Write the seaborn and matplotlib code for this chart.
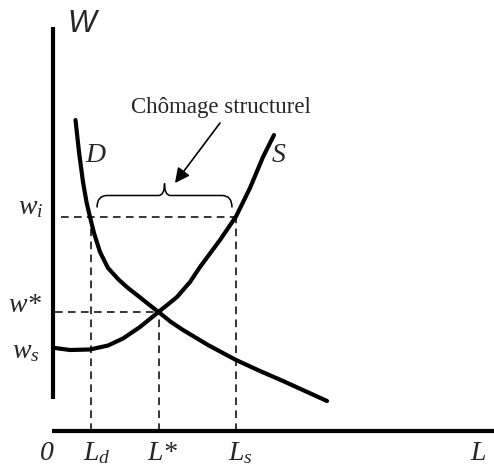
import matplotlib
matplotlib.use("Agg")
import matplotlib.pyplot as plt
from matplotlib.path import Path
from matplotlib.patches import PathPatch
import seaborn as sns

# courbe de demande D (L, W)
d_L = [2.25, 2.6, 3.0, 3.35, 3.7, 4.1, 4.7, 5.5, 6.6, 7.5, 8.4, 9.4, 10.55,
       11.8, 13.0, 15.5, 18.3, 20.7, 23.0, 27.4]
d_W = [31.1, 27.9, 24.9, 22.9, 21.4, 19.8, 17.9, 16.3, 15.1, 14.3, 13.6, 12.8,
       11.9, 10.9, 10.1, 8.6, 7.1, 6.0, 5.0, 3.0]

# courbe d'offre S (L, W)
s_L = [0.2, 1.7, 3.7, 5.5, 7.0, 8.7, 10.55, 12.4, 13.7, 14.7, 16.7, 18.3,
       19.7, 21.0, 22.1]
s_W = [8.3, 8.1, 8.15, 8.55, 9.25, 10.4, 11.9, 13.4, 14.9, 16.4, 19.1, 21.45,
       24.3, 27.4, 29.6]

# niveaux remarquables
Ld, Lstar, Ls = 3.8, 10.6, 18.3
wi, wstar, ws = 21.45, 11.95, 8.3

sns.set_style("white")
plt.rcParams["mathtext.fontset"] = "custom"
plt.rcParams["mathtext.rm"] = "Liberation Serif"
plt.rcParams["mathtext.it"] = "Liberation Serif:italic"

fig = plt.figure(figsize=(4.94, 4.68), dpi=100)
ax = fig.add_axes([0, 0, 1, 1])
ax.set_xlim(-5.3, 44.1)
ax.set_ylim(-3.7, 43.1)
ax.axis("off")

# axes du graphique
ax.plot([0, 0], [3.2, 40.4], color="black", lw=3, solid_capstyle="butt")
ax.plot([-0.1, 44.1], [0, 0], color="black", lw=3, solid_capstyle="butt")

# pointillés
dash = dict(color="black", lw=1.1, linestyles=(0, (5, 3.5)))
ax.hlines(wi, 0.8, Ls, **dash)
ax.hlines(wstar, 0.2, Lstar, **dash)
ax.vlines([Ld, Ls], 0, wi, **dash)
ax.vlines(Lstar, 0, wstar, **dash)

# courbes
sns.lineplot(x=d_L, y=d_W, sort=False, ax=ax, color="black", lw=3,
             solid_joinstyle="round")
sns.lineplot(x=s_L, y=s_W, sort=False, ax=ax, color="black", lw=3,
             solid_joinstyle="round")

# accolade au-dessus de wi entre Ld et Ls
x0, x1 = Ld + 0.6, Ls - 0.4
xm = (x0 + x1) / 2
y0, y1, y2 = wi + 0.9, wi + 2.1, wi + 3.3
r = 1.0
verts = [(x0, y0), (x0, y1), (x0 + r, y1),
         (xm - 0.6, y1), (xm, y1), (xm, y2),
         (xm, y1), (xm + 0.6, y1),
         (x1 - r, y1), (x1, y1), (x1, y0)]
codes = [Path.MOVETO, Path.CURVE3, Path.CURVE3,
         Path.LINETO, Path.CURVE3, Path.CURVE3,
         Path.CURVE3, Path.CURVE3,
         Path.LINETO, Path.CURVE3, Path.CURVE3]
ax.add_patch(PathPatch(Path(verts, codes), fill=False, lw=1.1, color="black"))

# textes
serif = "Liberation Serif"
lab = dict(family=serif, style="italic", fontsize=20, va="baseline", ha="left")
ax.text(1.4, 39.9, "W", family="Liberation Sans", style="italic",
        fontsize=22, va="baseline", ha="left")
ax.text(-3.5, 21.7, "$w_i$", **lab)
ax.text(-4.5, 11.9, "$w$*", **lab)
ax.text(-4.1, 7.3, "$w_s$", **lab)
ax.text(-1.3, -2.9, "0", **lab)
ax.text(3.0, -2.9, "$L_d$", **lab)
ax.text(9.4, -2.9, "$L$*", **lab)
ax.text(17.5, -2.9, "$L_s$", **lab)
ax.text(41.7, -2.9, "L", **lab)
ax.text(3.2, 26.9, "D", **lab)
ax.text(21.9, 26.9, "S", **lab)

ax.text(16.8, 31.8, "Chômage structurel", family=serif, fontsize=16.5,
        ha="center", va="baseline")
ax.annotate("", xy=(12.2, 24.8), xytext=(16.7, 30.8),
            arrowprops=dict(arrowstyle="-|>", color="black", lw=1.2,
                            mutation_scale=22, shrinkA=0, shrinkB=0))

fig.savefig("out.png", dpi=100)
